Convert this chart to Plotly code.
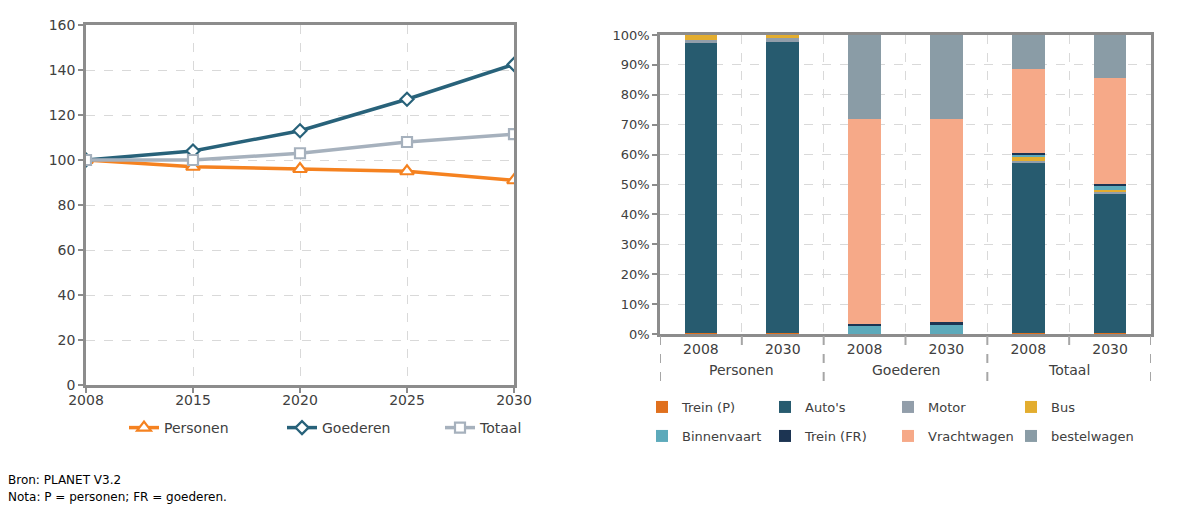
import plotly.graph_objects as go

# ---- left chart: index (2008 = 100) ----
years = ["2008", "2015", "2020", "2025", "2030"]
personen = [100, 97, 96, 95, 91]
goederen = [100, 104, 113, 127, 142.5]
totaal = [100, 100, 103, 108, 111.5]

# ---- right chart: modal shares (%) ----
groups = ["Personen", "Personen", "Goederen", "Goederen", "Totaal", "Totaal"]
bar_years = ["2008", "2030", "2008", "2030", "2008", "2030"]
trein_p = [0.3, 0.4, 0.0, 0.0, 0.2, 0.3]
autos = [97.0, 97.2, 0.0, 0.0, 57.2, 46.5]
motor = [1.0, 1.3, 0.0, 0.0, 0.6, 0.7]
bus = [1.7, 1.1, 0.0, 0.0, 1.1, 0.6]
binnenvaart = [0.0, 0.0, 2.6, 3.0, 1.0, 1.6]
trein_fr = [0.0, 0.0, 0.8, 1.1, 0.3, 0.6]
vrachtwagen = [0.0, 0.0, 68.5, 67.8, 28.2, 35.2]
bestelwagen = [0.0, 0.0, 28.1, 28.1, 11.4, 14.5]

W, H = 1201, 521
FONT = "DejaVu Sans"
TXT = "#404040"
FRAME = "#8c8c8c"
GRID = "#d9d9d9"


def px(x):
    return x / W


def py(y):
    return 1 - y / H


fig = go.Figure()

line_series = [
    ("Personen", personen, "#F58220", "triangle-up", 12),
    ("Goederen", goederen, "#28627A", "diamond", 10),
    ("Totaal", totaal, "#A6B1BD", "square", 10),
]
for name, vals, col, sym, size in line_series:
    fig.add_trace(go.Scatter(
        x=years, y=vals, name=name, mode="lines+markers",
        line=dict(color=col, width=3.5),
        marker=dict(symbol=sym, size=size, color="white",
                    line=dict(color=col, width=2.2)),
        xaxis="x", yaxis="y", legend="legend",
    ))

cats = [f"{g} {y}" for g, y in zip(groups, bar_years)]
bar_series = [
    ("Trein (P)", trein_p, "#E0701E", "legend2"),
    ("Auto's", autos, "#275B6F", "legend2"),
    ("Motor", motor, "#929EAA", "legend2"),
    ("Bus", bus, "#E3AD2F", "legend2"),
    ("Binnenvaart", binnenvaart, "#5DAABB", "legend3"),
    ("Trein (FR)", trein_fr, "#1C3452", "legend3"),
    ("Vrachtwagen", vrachtwagen, "#F6A988", "legend3"),
    ("bestelwagen", bestelwagen, "#8A9CA6", "legend3"),
]
for name, vals, col, leg in bar_series:
    fig.add_trace(go.Bar(
        x=cats, y=vals, name=name, width=0.4,
        marker=dict(color=col, line=dict(width=0)),
        xaxis="x2", yaxis="y2", legend=leg,
    ))

axis_common = dict(
    showline=True, mirror=True, linecolor=FRAME, linewidth=2.5,
    showgrid=True, gridcolor=GRID, griddash="dash", gridwidth=1,
    ticks="outside", ticklen=5, tickcolor=FRAME, tickwidth=1.5,
    tickfont=dict(family=FONT, size=14, color=TXT), zeroline=False,
    automargin=False,
)

legend_common = dict(orientation="h", xanchor="left", yanchor="middle",
                     traceorder="normal", bgcolor="rgba(0,0,0,0)",
                     borderwidth=0)

fig.update_layout(
    template="none",
    width=W, height=H,
    margin=dict(l=0, r=0, t=0, b=0, autoexpand=False),
    paper_bgcolor="white", plot_bgcolor="white",
    barmode="stack", showlegend=True,
    font=dict(family=FONT, color=TXT),
    xaxis=dict(axis_common, type="category", range=[0, 4],
               ticklabelstandoff=-5,
               domain=[px(86), px(514)], anchor="y"),
    yaxis=dict(axis_common, range=[0, 160], dtick=20,
               domain=[py(385), py(25)], anchor="x"),
    xaxis2=dict(axis_common, type="category", range=[-0.5, 5.5],
                tickvals=cats, ticktext=bar_years, tickson="boundaries",
                ticks="", domain=[px(660), px(1151)], anchor="y2"),
    yaxis2=dict(axis_common, range=[0, 100], dtick=10, ticksuffix="%",
                tickfont=dict(family=FONT, size=13, color=TXT),
                domain=[py(334), py(35)], anchor="x2"),
    legend=dict(legend_common, x=px(124), y=py(428),
                font=dict(family=FONT, size=14, color=TXT), entrywidth=113),
    legend2=dict(legend_common, x=px(642), y=py(407),
                 font=dict(family=FONT, size=13, color=TXT), entrywidth=78),
    legend3=dict(legend_common, x=px(642), y=py(436),
                 font=dict(family=FONT, size=13, color=TXT), entrywidth=78),
)

# dashed separators under the category axis
for i in range(7):
    b = i - 0.5
    bottom = 382 if i % 2 == 0 else 350
    fig.add_shape(type="line", xref="x2", yref="paper",
                  x0=b, x1=b, y0=py(336), y1=py(bottom),
                  line=dict(color="#a6a6a6", width=2, dash="dash"))

# group labels
for k, g in enumerate(["Personen", "Goederen", "Totaal"]):
    fig.add_annotation(x=2 * k + 0.5, y=py(370), xref="x2", yref="paper",
                       yanchor="middle", text=g, showarrow=False,
                       font=dict(family=FONT, size=14, color=TXT))

fig.add_annotation(x=px(6), y=py(480), xref="paper", yref="paper",
                   xanchor="left", yanchor="middle",
                   text="Bron: PLANET V3.2", showarrow=False,
                   font=dict(family=FONT, size=12, color="black"))
fig.add_annotation(x=px(6), y=py(497), xref="paper", yref="paper",
                   xanchor="left", yanchor="middle",
                   text="Nota: P = personen; FR = goederen.",
                   showarrow=False,
                   font=dict(family=FONT, size=12, color="black"))

fig.write_html("out.html")
